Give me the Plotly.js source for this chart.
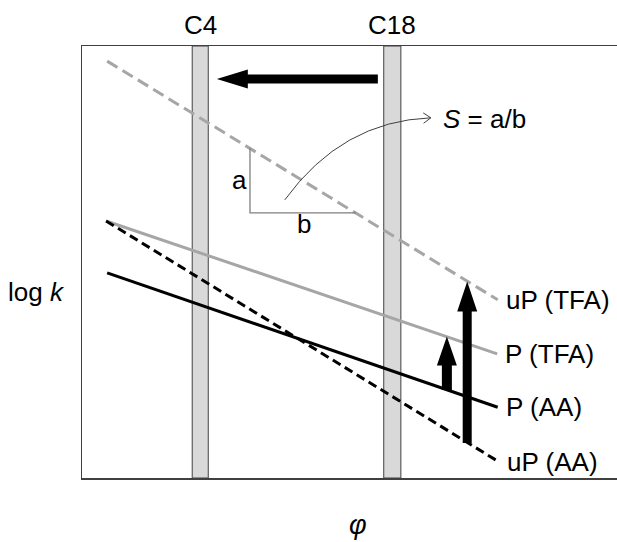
<!DOCTYPE html>
<html><head><meta charset="utf-8">
<script src="https://cdn.plot.ly/plotly-3.0.1.min.js"></script>
<style>html,body{margin:0;padding:0;background:#fff}</style>
</head><body>
<div id="chart" style="width:617px;height:542px"></div>
<script>
// Retention lines: log k vs phi (schematic)
const seriesNames = ['uP (TFA)', 'P (TFA)', 'P (AA)', 'uP (AA)'];
const phiStart = [0.47, 0.45, 0.47, 0.45];
const phiEnd = [7.77, 7.76, 7.77, 7.79];
const logkStart = [7.72, 4.76, 3.80, 4.76];
const logkEnd = [3.30, 2.30, 1.31, 0.30];
const seriesColors = ['#a6a6a6', '#a6a6a6', '#000000', '#000000'];
const seriesDash = ['12px,6px', 'solid', 'solid', '9px,5px'];

// Column bands
const columnNames = ['C4', 'C18'];
const columnLeft = [2.06, 5.64];
const columnRight = [2.36, 5.96];

// Block arrows (from -> to)
const arrowX0 = [5.53, 6.82, 7.20];
const arrowY0 = [7.39, 1.63, 0.65];
const arrowX1 = [2.52, 6.82, 7.20];
const arrowY1 = [7.39, 2.62, 3.64];
const arrowShaft = [9, 10, 9];
const arrowHeadW = [19, 20, 20];
const arrowHeadL = [31, 29, 30];

// Slope triangle
const triX = [3.14, 3.14, 5.12];
const triY = [6.11, 4.91, 4.91];

// Curved pointer (quadratic): start, control, end
const curveX = [3.79, 4.86, 6.52];
const curveY = [5.15, 6.61, 6.67];

const XR = [0, 10], YR = [0, 8];
const ML = 82, MR = 0, MT = 46, MB = 64, W = 617, H = 542;
const sx = (W - ML - MR) / (XR[1] - XR[0]);
const sy = (H - MT - MB) / (YR[1] - YR[0]);

function arrowPath(x0, y0, x1, y1, sw, hw, hl) {
  const dx = (x1 - x0) * sx, dy = (y1 - y0) * sy;
  const L = Math.hypot(dx, dy);
  const ux = dx / L, uy = dy / L, nx = -uy, ny = ux;
  const pts = [
    [nx * sw / 2, ny * sw / 2],
    [ux * (L - hl) + nx * sw / 2, uy * (L - hl) + ny * sw / 2],
    [ux * (L - hl) + nx * hw / 2, uy * (L - hl) + ny * hw / 2],
    [ux * L, uy * L],
    [ux * (L - hl) - nx * hw / 2, uy * (L - hl) - ny * hw / 2],
    [ux * (L - hl) - nx * sw / 2, uy * (L - hl) - ny * sw / 2],
    [-nx * sw / 2, -ny * sw / 2]
  ];
  return pts.map((p, i) => (i ? 'L' : 'M') + (x0 + p[0] / sx) + ',' + (y0 + p[1] / sy)).join(' ') + ' Z';
}

const traces = seriesNames.map((n, i) => ({
  type: 'scatter', mode: 'lines', name: n,
  x: [phiStart[i], phiEnd[i]], y: [logkStart[i], logkEnd[i]],
  line: {color: seriesColors[i], width: 3, dash: seriesDash[i]},
  hoverinfo: 'skip', cliponaxis: false
}));

const shapes = [];
columnNames.forEach((c, i) => {
  shapes.push({type: 'rect', xref: 'x', yref: 'y', x0: columnLeft[i], x1: columnRight[i], y0: YR[0], y1: YR[1],
    fillcolor: '#d9d9d9', line: {color: '#404040', width: 1}, layer: 'below'});
});
arrowX0.forEach((v, i) => {
  shapes.push({type: 'path', xref: 'x', yref: 'y',
    path: arrowPath(arrowX0[i], arrowY0[i], arrowX1[i], arrowY1[i], arrowShaft[i], arrowHeadW[i], arrowHeadL[i]),
    fillcolor: '#000000', line: {color: '#000000', width: 0}, layer: 'above'});
});
shapes.push({type: 'path', xref: 'x', yref: 'y',
  path: 'M' + triX[0] + ',' + triY[0] + ' L' + triX[1] + ',' + triY[1] + ' L' + triX[2] + ',' + triY[2],
  line: {color: '#7f7f7f', width: 1.3}});
shapes.push({type: 'path', xref: 'x', yref: 'y',
  path: 'M' + curveX[0] + ',' + curveY[0] + ' Q' + curveX[1] + ',' + curveY[1] + ' ' + curveX[2] + ',' + curveY[2],
  line: {color: '#404040', width: 1}});
// open arrowhead at curve end
(function () {
  const ex = curveX[2], ey = curveY[2];
  let dx = (curveX[2] - curveX[1]) * sx, dy = (curveY[2] - curveY[1]) * sy;
  const L = Math.hypot(dx, dy); dx /= L; dy /= L;
  const a = 35 * Math.PI / 180, len = 9;
  const arm = s => {
    const bx = -dx, by = -dy;
    const rx = bx * Math.cos(s * a) - by * Math.sin(s * a);
    const ry = bx * Math.sin(s * a) + by * Math.cos(s * a);
    return [ex + rx * len / sx, ey + ry * len / sy];
  };
  const p1 = arm(1), p2 = arm(-1);
  shapes.push({type: 'path', xref: 'x', yref: 'y',
    path: 'M' + p1[0] + ',' + p1[1] + ' L' + ex + ',' + ey + ' L' + p2[0] + ',' + p2[1],
    line: {color: '#404040', width: 1}});
})();

const font = {family: 'Liberation Sans, Arial, sans-serif', size: 26, color: '#000000'};
const annotations = [];
seriesNames.forEach((n, i) => {
  annotations.push({xref: 'x', yref: 'y', x: phiEnd[i], y: logkEnd[i], text: n, showarrow: false,
    xanchor: 'left', yanchor: 'middle', xshift: 6, font: font});
});
columnNames.forEach((c, i) => {
  annotations.push({xref: 'x', yref: 'paper', x: (columnLeft[i] + columnRight[i]) / 2, y: 1, yshift: 21,
    text: c, showarrow: false, xanchor: 'center', yanchor: 'middle', font: font});
});
annotations.push({xref: 'x', yref: 'y', x: 6.71, y: 6.65, text: '<i>S</i> = a/b', showarrow: false,
  xanchor: 'left', yanchor: 'middle', font: font});
annotations.push({xref: 'x', yref: 'y', x: 2.95, y: 5.52, text: 'a', showarrow: false,
  xanchor: 'center', yanchor: 'middle', font: font});
annotations.push({xref: 'x', yref: 'y', x: 4.15, y: 4.70, text: 'b', showarrow: false,
  xanchor: 'center', yanchor: 'middle', font: font});
annotations.push({xref: 'paper', yref: 'paper', x: -0.142, y: 0.43, text: 'log <i>k</i>', showarrow: false,
  xanchor: 'left', yanchor: 'middle', font: font});
annotations.push({xref: 'paper', yref: 'paper', x: 0.515, y: -0.109, text: '<i>φ</i>', showarrow: false,
  xanchor: 'center', yanchor: 'middle', font: Object.assign({}, font, {size: 27})});

const axisBase = {showgrid: false, zeroline: false, showticklabels: false, ticks: '', showline: true,
  linecolor: '#404040', linewidth: 1.5, fixedrange: true};
const layout = {
  width: W, height: H, margin: {l: ML, r: MR, t: MT, b: MB},
  paper_bgcolor: '#ffffff', plot_bgcolor: '#ffffff', showlegend: false,
  xaxis: Object.assign({}, axisBase, {range: XR, mirror: true}),
  yaxis: Object.assign({}, axisBase, {range: YR, mirror: false}),
  shapes: shapes, annotations: annotations, font: font
};
Plotly.newPlot('chart', traces, layout, {staticPlot: true, displayModeBar: false});
</script>
</body></html>
